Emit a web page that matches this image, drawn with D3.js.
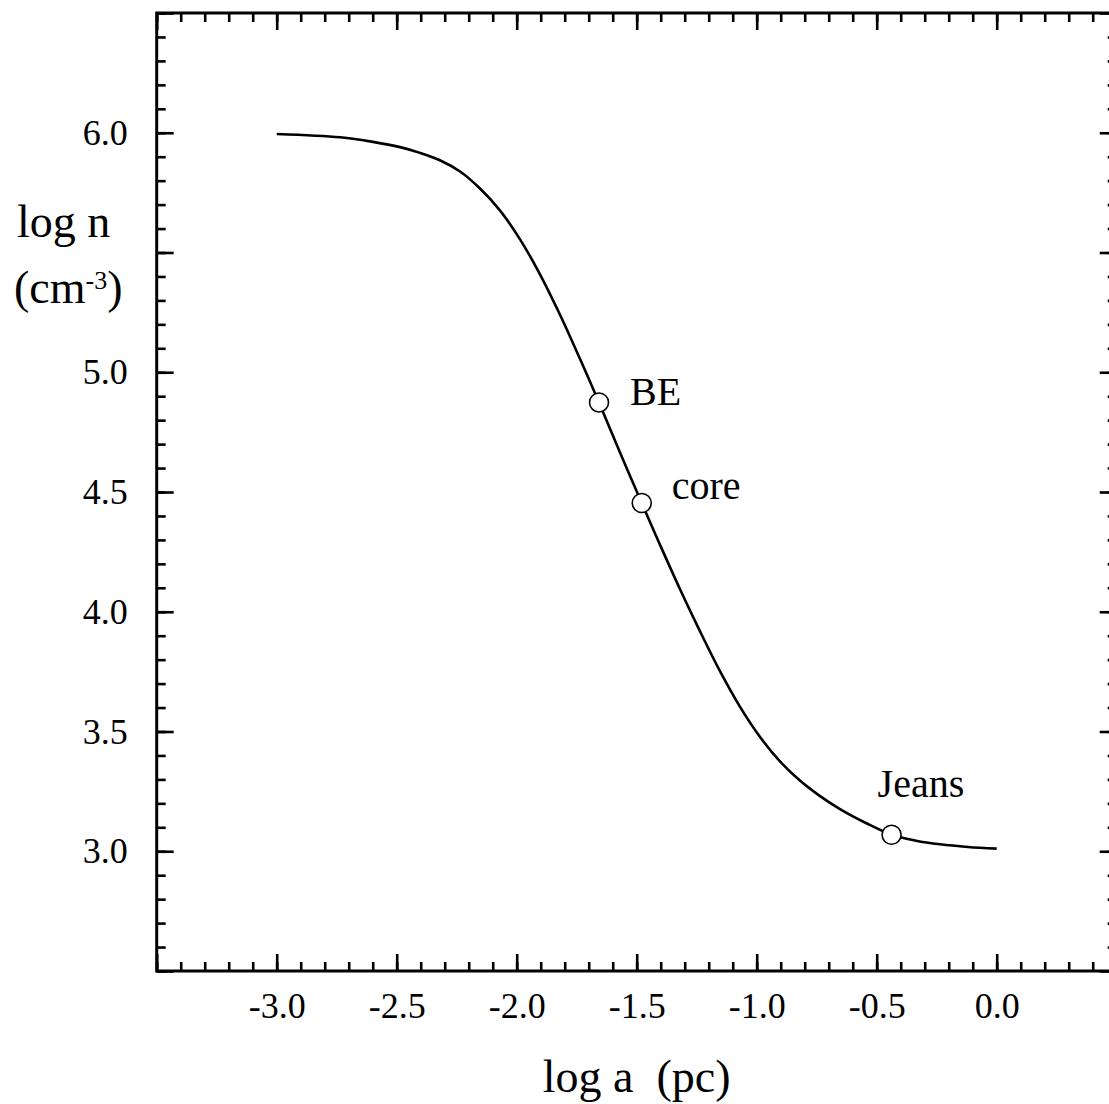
<!DOCTYPE html>
<html>
<head>
<meta charset="utf-8">
<script src="https://cdn.jsdelivr.net/npm/d3@7"></script>
<style>
  body { margin: 0; background: #fff; }
  svg { display: block; }
  text { font-family: "Liberation Serif", "Times New Roman", serif; fill: #000; }
</style>
</head>
<body>
<div id="chart"></div>
<script>
// curve: log a (pc) vs log n (cm^-3)
var logA = [-3.000, -2.736, -2.599, -2.486, -2.403, -2.320, -2.236, -2.153, -2.070, -1.986,
            -1.903, -1.820, -1.736, -1.657, -1.570, -1.479, -1.403, -1.320, -1.236, -1.153,
            -1.070, -0.986, -0.903, -0.820, -0.736, -0.653, -0.545, -0.438, -0.336, -0.236,
            -0.120, 0.000];
var logN = [5.995, 5.981, 5.962, 5.940, 5.916, 5.885, 5.838, 5.767, 5.676, 5.555,
            5.409, 5.241, 5.055, 4.874, 4.666, 4.454, 4.280, 4.095, 3.918, 3.752,
            3.604, 3.477, 3.375, 3.295, 3.230, 3.176, 3.118, 3.069, 3.044, 3.029,
            3.018, 3.011];

// marked points
var markNames = ["BE", "core", "Jeans"];
var markA = [-1.657, -1.479, -0.438];
var markN = [4.874, 4.454, 3.069];

// tick labels
var xLabels = [-3.0, -2.5, -2.0, -1.5, -1.0, -0.5, 0.0];
var yLabels = [3.0, 3.5, 4.0, 4.5, 5.0, 6.0];

var W = 1109, H = 1104;
var margin = {top: 13, left: 156.7},
    width = 960,
    height = 958;

var svg = d3.select("#chart").append("svg")
    .attr("width", W)
    .attr("height", H);

var g = svg.append("g")
    .attr("transform", "translate(" + margin.left + "," + margin.top + ")");

var x = d3.scaleLinear().domain([-3.5, 0.5]).range([0, width]);
var y = d3.scaleLinear().domain([2.5, 6.5]).range([height, 0]);

function steps(lo, hi, st) {
  return d3.range(lo, hi + st / 2, st).map(function(d){ return +d.toFixed(2); });
}
var xMinor = steps(-3.5, 0.5, 0.1), xMajor = steps(-3.5, 0.5, 0.5),
    yMinor = steps(2.5, 6.5, 0.1),  yMajor = steps(2.5, 6.5, 0.5);

var minorLen = 9, majorLen = 17;
var fmt = function(d){ return d.toFixed(1); };   // plain hyphen, like the original

// ticks on all four sides, pointing inward
var sides = [
  {mk: function(){ return d3.axisBottom(x); }, tr: "translate(0," + height + ")", minor: xMinor, major: xMajor},
  {mk: function(){ return d3.axisTop(x); },    tr: "translate(0,0)",              minor: xMinor, major: xMajor},
  {mk: function(){ return d3.axisLeft(y); },   tr: "translate(0,0)",              minor: yMinor, major: yMajor},
  {mk: function(){ return d3.axisRight(y); },  tr: "translate(" + width + ",0)",  minor: yMinor, major: yMajor}
];
sides.forEach(function(s){
  [[s.minor, minorLen], [s.major, majorLen]].forEach(function(p){
    var a = g.append("g")
        .attr("transform", s.tr)
        .call(s.mk().tickValues(p[0]).tickSize(-p[1]).tickFormat(""));
    a.select(".domain").remove();
    a.selectAll("line").attr("stroke", "#000").attr("stroke-width", 2.6);
  });
});

// tick labels
var xl = g.append("g")
    .attr("transform", "translate(0," + height + ")")
    .call(d3.axisBottom(x).tickValues(xLabels).tickSize(0).tickPadding(21).tickFormat(fmt));
xl.select(".domain").remove();
xl.selectAll("text").attr("font-size", 36).style("font-family", "Liberation Serif").attr("fill", "#000");

var yl = g.append("g")
    .call(d3.axisLeft(y).tickValues(yLabels).tickSize(0).tickPadding(29).tickFormat(fmt));
yl.select(".domain").remove();
yl.selectAll("text").attr("font-size", 36).style("font-family", "Liberation Serif").attr("fill", "#000");

// frame
g.append("rect")
    .attr("width", width)
    .attr("height", height)
    .attr("fill", "none")
    .attr("stroke", "#000")
    .attr("stroke-width", 3);

// curve
var pts = logA.map(function(d, i){ return [d, logN[i]]; });
var line = d3.line()
    .x(function(d){ return x(d[0]); })
    .y(function(d){ return y(d[1]); })
    .curve(d3.curveCatmullRom.alpha(0.5));

g.append("path")
    .datum(pts)
    .attr("d", line)
    .attr("fill", "none")
    .attr("stroke", "#000")
    .attr("stroke-width", 2.6);

// marks + labels
var labelOff = {BE: [31, 3], core: [30, -4], Jeans: [-14, -38]};
var marks = markNames.map(function(n, i){ return {name: n, a: markA[i], n: markN[i]}; });

g.selectAll("circle.mark")
    .data(marks)
  .enter().append("circle")
    .attr("class", "mark")
    .attr("cx", function(d){ return x(d.a); })
    .attr("cy", function(d){ return y(d.n); })
    .attr("r", 9.5)
    .attr("fill", "#fff")
    .attr("stroke", "#000")
    .attr("stroke-width", 1.6);

g.selectAll("text.mark")
    .data(marks)
  .enter().append("text")
    .attr("class", "mark")
    .attr("x", function(d){ return x(d.a) + labelOff[d.name][0]; })
    .attr("y", function(d){ return y(d.n) + labelOff[d.name][1]; })
    .attr("font-size", 40)
    .text(function(d){ return d.name; });

// axis titles
svg.append("text")
    .attr("x", margin.left + width / 2)
    .attr("y", 1092)
    .attr("text-anchor", "middle")
    .attr("font-size", 46)
    .attr("xml:space", "preserve")
    .text("log a  (pc)");

svg.append("text")
    .attr("x", 17)
    .attr("y", 237)
    .attr("font-size", 46)
    .text("log n");

var t2 = svg.append("text")
    .attr("x", 14)
    .attr("y", 303)
    .attr("font-size", 46);
t2.append("tspan").text("(cm");
t2.append("tspan").attr("font-size", 26).attr("dy", -14).text("-3");
t2.append("tspan").attr("dy", 14).text(")");
</script>
</body>
</html>
